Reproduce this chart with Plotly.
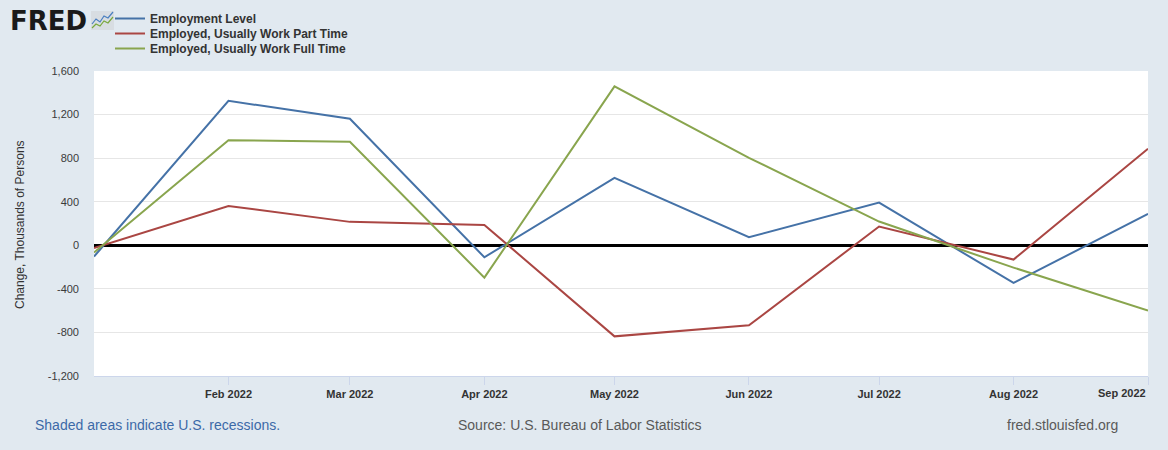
import plotly.graph_objects as go

# ---------------- data ----------------
months = ["2022-01-01", "2022-02-01", "2022-03-01", "2022-04-01", "2022-05-01",
          "2022-06-01", "2022-07-01", "2022-08-01", "2022-09-01"]
employment_level = [-104, 1326, 1162, -110, 619, 74, 392, -346, 289]
part_time = [-25, 361, 215, 187, -836, -735, 172, -131, 886]
full_time = [-67, 965, 950, -297, 1459, 803, 218, -205, -600]

series_names = ["Employment Level", "Employed, Usually Work Part Time",
                "Employed, Usually Work Full Time"]

x_tick_vals = months[1:]
x_tick_labels = ["Feb 2022", "Mar 2022", "Apr 2022", "May 2022", "Jun 2022",
                 "Jul 2022", "Aug 2022", "Sep 2022"]
y_tick_vals = [-1200, -800, -400, 0, 400, 800, 1200, 1600]
y_tick_labels = ["-1,200", "-800", "-400", "0", "400", "800", "1,200", "1,600"]

# ---------------- layout constants ----------------
W, H = 1168, 450
L, R, T, B = 94, 20, 71, 74
PW, PH = W - L - R, H - T - B
FONT = "Liberation Sans, Arial, sans-serif"
colors = ["#4572a7", "#aa4643", "#89a54e"]
legend_ids = ["legend", "legend2", "legend3"]
legend_tops = [4, 19, 34]


def px(x):
    return (x - L) / PW


def py(y):
    return (H - B - y) / PH


fig = go.Figure()
for name, vals, c, lg in zip(series_names, [employment_level, part_time, full_time],
                             colors, legend_ids):
    fig.add_trace(go.Scatter(x=months, y=vals, mode="lines", name=name,
                             line=dict(color=c, width=2), legend=lg))

legend_common = dict(
    xref="container", yref="container", x=110 / W,
    xanchor="left", yanchor="top", bgcolor="rgba(0,0,0,0)",
    font=dict(family=FONT, size=12, color="#333333", weight="bold"),
    itemwidth=30,
)
legends = {lg: dict(legend_common, y=1 - top / H) for lg, top in zip(legend_ids, legend_tops)}

# last tick label shifted left so it stays inside the canvas
ticktext = x_tick_labels[:-1] + [""]

fig.update_layout(
    width=W, height=H,
    margin=dict(l=L, r=R, t=T, b=B, autoexpand=False),
    paper_bgcolor="#e1e9f0",
    plot_bgcolor="#ffffff",
    font=dict(family=FONT, color="#333333"),
    showlegend=True,
    **legends,
    xaxis=dict(
        type="date",
        range=[months[0], months[-1]],
        tickvals=x_tick_vals,
        ticktext=ticktext,
        ticks="outside", ticklen=8, tickcolor="#ccd6eb", tickwidth=1,
        showline=True, linecolor="#ccd6eb", linewidth=1,
        showgrid=False, zeroline=False,
        tickfont=dict(family=FONT, size=11, color="#333333", weight="bold"),
        fixedrange=True,
    ),
    yaxis=dict(
        range=[-1200, 1600],
        tickvals=y_tick_vals,
        ticktext=y_tick_labels,
        showgrid=True, gridcolor="#e6e6e6", gridwidth=1,
        zeroline=True, zerolinecolor="#000000", zerolinewidth=2.5,
        showline=False, ticks="",
        ticklabelstandoff=14,
        tickfont=dict(family=FONT, size=11, color="#3a3a3a"),
        fixedrange=True,
    ),
)

annotations = [
    dict(text=x_tick_labels[-1], x=months[-1], xref="x", y=0, yref="paper",
         xanchor="right", yanchor="top", yshift=-9, showarrow=False,
         font=dict(family=FONT, size=11, color="#333333", weight="bold")),
    dict(text="Change, Thousands of Persons", x=px(20), y=py(225),
         xref="paper", yref="paper", xanchor="center", yanchor="middle",
         textangle=-90, showarrow=False,
         font=dict(family=FONT, size=12, color="#333333")),
    dict(text="Shaded areas indicate U.S. recessions.", x=px(33), y=py(425),
         xref="paper", yref="paper", xanchor="left", yanchor="middle",
         showarrow=False, font=dict(family=FONT, size=14, color="#3c6aa8")),
    dict(text="Source: U.S. Bureau of Labor Statistics", x=px(580), y=py(425),
         xref="paper", yref="paper", xanchor="center", yanchor="middle",
         showarrow=False, font=dict(family=FONT, size=14, color="#595959")),
    dict(text="fred.stlouisfed.org", x=px(1120), y=py(425),
         xref="paper", yref="paper", xanchor="right", yanchor="middle",
         showarrow=False, font=dict(family=FONT, size=14, color="#595959")),
    dict(text="FRED", x=px(8), y=py(21), xref="paper", yref="paper",
         xanchor="left", yanchor="middle", showarrow=False,
         font=dict(family="DejaVu Sans, Liberation Sans, sans-serif", size=26,
                   color="#1a1a1a", weight="bold")),
]
fig.update_layout(annotations=annotations)

# small logo icon
shapes = [
    dict(type="rect", xref="paper", yref="paper", x0=px(91), x1=px(114),
         y0=py(30), y1=py(11), fillcolor="#d8dde2", line=dict(width=0), layer="above"),
    dict(type="path", xref="paper", yref="paper",
         path="M {} {} L {} {} L {} {} L {} {} L {} {} L {} {}".format(
             px(92), py(24), px(96), py(19), px(100), py(22), px(104), py(16),
             px(108), py(18), px(113), py(12)),
         line=dict(color="#4a7fc0", width=1.2), layer="above"),
    dict(type="path", xref="paper", yref="paper",
         path="M {} {} L {} {} L {} {} L {} {} L {} {} L {} {}".format(
             px(92), py(28), px(96), py(24), px(100), py(26), px(104), py(21),
             px(108), py(23), px(113), py(17)),
         line=dict(color="#79a83c", width=1.2), layer="above"),
]
fig.update_layout(shapes=shapes)

fig.write_html("out.html", config={"displayModeBar": False},
               post_script="document.body.style.margin='0';document.body.style.overflow='hidden';")
